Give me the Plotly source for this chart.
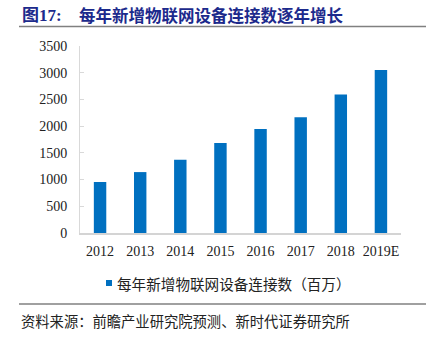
import plotly.graph_objects as go

years = ["2012", "2013", "2014", "2015", "2016", "2017", "2018", "2019E"]
connections = [955, 1140, 1370, 1685, 1945, 2165, 2590, 3050]
series_name = "每年新增物联网设备连接数（百万）"
fig_label = "图17:"
title_text = "每年新增物联网设备连接数逐年增长"
source_text = "资料来源：前瞻产业研究院预测、新时代证券研究所"

W, H = 426, 338
L, R, T, B = 80, 25, 46, 105
PW, PH = W - L - R, H - T - B

serif = "Liberation Serif, Noto Sans CJK SC, serif"
cjk = "Noto Sans CJK SC, sans-serif"

fig = go.Figure()
fig.add_trace(go.Bar(
    x=years, y=connections, name=series_name,
    marker=dict(color="#0070C0", line=dict(width=0)),
    showlegend=False,
))

fig.update_layout(
    width=W, height=H,
    margin=dict(l=L, r=R, t=T, b=B, pad=0),
    paper_bgcolor="white", plot_bgcolor="white",
    bargap=0.69,
    xaxis=dict(
        showline=True, linecolor="#d4d4d4", linewidth=1.5,
        ticks="", showgrid=False,
        tickfont=dict(family=serif, size=14, color="#222"),
        ticklabelstandoff=4,
    ),
    yaxis=dict(
        range=[0, 3500], dtick=500, tick0=0,
        showline=True, linecolor="#d9d9d9", linewidth=1,
        ticks="inside", ticklen=4, tickcolor="#d9d9d9",
        showgrid=False, zeroline=False,
        tickfont=dict(family=serif, size=14, color="#222"),
        ticklabelstandoff=9,
    ),
)

def px_x(x):
    return (x - L) / PW

def px_y(y):
    return (H - B - y) / PH

shapes = [
    dict(type="line", xref="paper", yref="paper",
         x0=px_x(19), x1=px_x(426), y0=px_y(26.5), y1=px_y(26.5),
         line=dict(color="#808080", width=1.5)),
    dict(type="line", xref="paper", yref="paper",
         x0=px_x(19), x1=px_x(426), y0=px_y(304), y1=px_y(304),
         line=dict(color="#808080", width=1.5)),
    dict(type="rect", xref="paper", yref="paper",
         x0=px_x(106), x1=px_x(112), y0=px_y(286), y1=px_y(280),
         fillcolor="#0070C0", line=dict(width=0)),
]
fig.update_layout(shapes=shapes)

ann = [
    dict(text="<b>" + fig_label + "</b>", x=px_x(20), y=px_y(15),
         xanchor="left", yanchor="middle",
         font=dict(family=serif, size=17, color="#1c2a8c")),
    dict(text="<b>" + title_text + "</b>", x=px_x(77), y=px_y(15),
         xanchor="left", yanchor="middle",
         font=dict(family=cjk, size=16.5, color="#1c2a8c")),
    dict(text=series_name, x=px_x(115), y=px_y(283),
         xanchor="left", yanchor="middle",
         font=dict(family=cjk, size=14.6, color="#222")),
    dict(text=source_text, x=px_x(19), y=px_y(320),
         xanchor="left", yanchor="middle",
         font=dict(family=cjk, size=14.3, color="#222")),
]
for a in ann:
    a.update(xref="paper", yref="paper", showarrow=False)
fig.update_layout(annotations=ann)

fig.write_html("out.html")
